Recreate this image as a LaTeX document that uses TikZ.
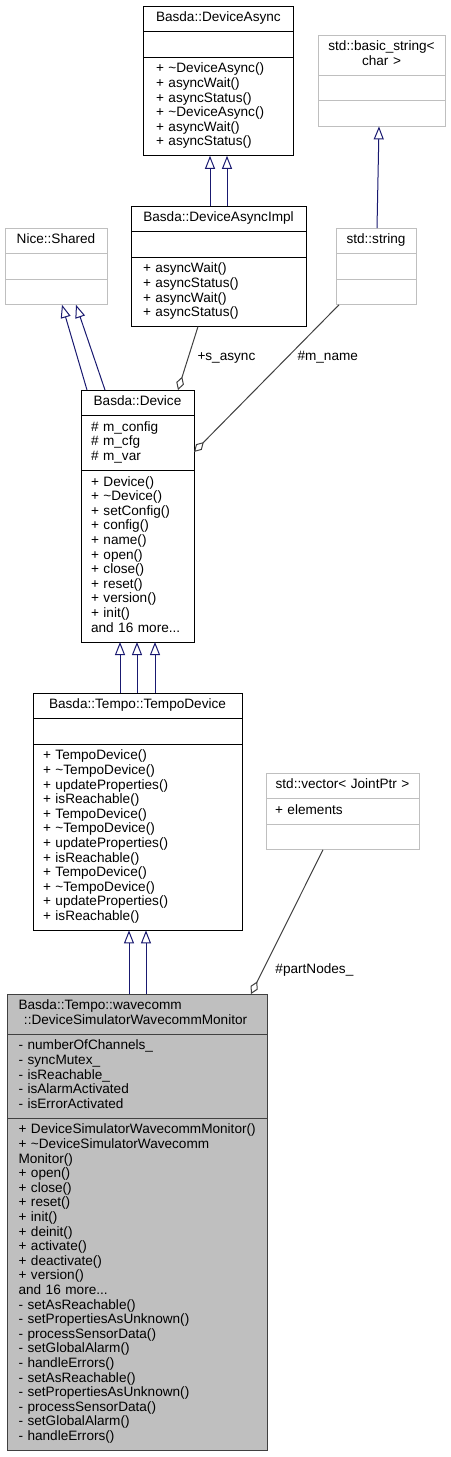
\documentclass[tikz,border=0pt]{standalone}
\usepackage{fontspec}
\setmainfont{Liberation Sans}
\usetikzlibrary{arrows.meta,positioning,calc}
\definecolor{dxBlue}{HTML}{191970}
\definecolor{dxGrey}{HTML}{BFBFBF}
\definecolor{dxEdge}{HTML}{404040}
\newcommand{\dxfont}{\fontsize{13.6}{14.6}\selectfont}
\hyphenpenalty=10000
\exhyphenpenalty=10000

\begin{document}
\begin{tikzpicture}[x=1pt, y=-1pt,
  font=\dxfont,
  part/.style={draw=black, line width=1pt, outer sep=0pt, inner ysep=5.5pt, inner xsep=10pt,
               execute at begin node=\strut, execute at end node=\strut},
  hdr/.style={part, align=center},
  body/.style={part, align=left},
  grey/.style={draw=dxGrey},
  sim/.style={draw=dxEdge, fill=dxGrey},
  inh/.style={draw=dxBlue, line width=1pt, -{Triangle[open, length=13pt, width=10pt]}},
  agg/.style={draw=dxEdge, line width=1pt, -{Diamond[open, length=14pt, width=8pt]}},
  lbl/.style={inner sep=0pt},
]
\useasboundingbox (0,0) rectangle (450,1457);

% Basda::DeviceAsync
\node[hdr, anchor=north west, text width=124pt, inner xsep=13pt] (asyncH) at (143,6) {Basda::DeviceAsync};
\node[body, below=0pt of asyncH, text width=124pt, inner xsep=13pt] (asyncA) {};
\node[body, below=0pt of asyncA, text width=124pt, inner xsep=13pt] (asyncM)
  {+ \textasciitilde DeviceAsync()\\+ asyncWait()\\+ asyncStatus()\\+ \textasciitilde DeviceAsync()\\+ asyncWait()\\+ asyncStatus()};

% Basda::DeviceAsyncImpl
\node[hdr, anchor=north west, text width=151pt, inner xsep=12pt] (implH) at (131,206) {Basda::DeviceAsyncImpl};
\node[body, below=0pt of implH, text width=151pt, inner xsep=12pt] (implA) {};
\node[body, below=0pt of implA, text width=151pt, inner xsep=12pt] (implM)
  {+ asyncWait()\\+ asyncStatus()\\+ asyncWait()\\+ asyncStatus()};

% Nice::Shared
\node[hdr, grey, anchor=north west, text width=82pt] (sharedH) at (5,228) {Nice::Shared};
\node[body, grey, below=0pt of sharedH, text width=82pt] (sharedA) {};
\node[body, grey, below=0pt of sharedA, text width=82pt] (sharedM) {};

% std::basic_string / std::string
\node[hdr, grey, anchor=north west, text width=111pt, inner xsep=8pt] (basicH) at (318,35) {std::basic\_string<\\char >};
\node[body, grey, below=0pt of basicH, text width=111pt, inner xsep=8pt] (basicA) {};
\node[body, grey, below=0pt of basicA, text width=111pt, inner xsep=8pt] (basicM) {};

\node[hdr, grey, anchor=north west, text width=64pt, inner xsep=8pt] (strH) at (336,228) {std::string};
\node[body, grey, below=0pt of strH, text width=64pt, inner xsep=8pt] (strA) {};
\node[body, grey, below=0pt of strA, text width=64pt, inner xsep=8pt] (strM) {};

% Basda::Device
\node[hdr, anchor=north west, text width=93pt] (devH) at (81,390) {Basda::Device};
\node[body, below=0pt of devH, text width=93pt] (devA) {\# m\_config\\\# m\_cfg\\\# m\_var};
\node[body, below=0pt of devA, text width=93pt] (devM)
  {+ Device()\\+ \textasciitilde Device()\\+ setConfig()\\+ config()\\+ name()\\+ open()\\+ close()\\+ reset()\\+ version()\\+ init()\\and 16 more...};

% Basda::Tempo::TempoDevice
\node[hdr, anchor=north west, text width=189pt] (tempoH) at (33,693) {Basda::Tempo::TempoDevice};
\node[body, below=0pt of tempoH, text width=189pt] (tempoA) {};
\node[body, below=0pt of tempoA, text width=189pt] (tempoM)
  {+ TempoDevice()\\+ \textasciitilde TempoDevice()\\+ updateProperties()\\+ isReachable()\\
   + TempoDevice()\\+ \textasciitilde TempoDevice()\\+ updateProperties()\\+ isReachable()\\
   + TempoDevice()\\+ \textasciitilde TempoDevice()\\+ updateProperties()\\+ isReachable()};

% std::vector< JointPtr >
\node[hdr, grey, anchor=north west, text width=135pt, inner xsep=9pt] (vecH) at (266,773) {std::vector< JointPtr >};
\node[body, grey, below=0pt of vecH, text width=135pt, inner xsep=9pt] (vecA) {+ elements};
\node[body, grey, below=0pt of vecA, text width=135pt, inner xsep=9pt] (vecM) {};

% Basda::Tempo::wavecomm::DeviceSimulatorWavecommMonitor
\node[body, sim, anchor=north west, text width=237pt, inner xsep=11.5pt] (dswmH) at (7,994)
  {Basda::Tempo::wavecomm\\\hspace*{5.5pt}::DeviceSimulatorWavecommMonitor};
\node[body, sim, below=0pt of dswmH, text width=237pt, inner xsep=11.5pt] (dswmA)
  {- numberOfChannels\_\\- syncMutex\_\\- isReachable\_\\- isAlarmActivated\\- isErrorActivated};
\node[body, sim, below=0pt of dswmA, text width=237pt, inner xsep=11.5pt] (dswmM)
  {\mbox{+ DeviceSimulatorWavecommMonitor()}\\+ \textasciitilde DeviceSimulatorWavecomm\\Monitor()\\
   + open()\\+ close()\\+ reset()\\+ init()\\+ deinit()\\+ activate()\\+ deactivate()\\+ version()\\
   and 16 more...\\- setAsReachable()\\- setPropertiesAsUnknown()\\- processSensorData()\\
   - setGlobalAlarm()\\- handleErrors()\\- setAsReachable()\\- setPropertiesAsUnknown()\\
   - processSensorData()\\- setGlobalAlarm()\\- handleErrors()};

% inheritance (blue)
\foreach \dx in {79,96}
  \draw[inh] ($(implH.north west)+(\dx,0)$) -- ($(asyncM.south west)+(\dx-12,0)$);
\draw[inh] ($(devH.north west)+(6,0)$) -- ($(sharedM.south west)+(57,0)$);
\draw[inh] ($(devH.north west)+(24,0)$) -- ($(sharedM.south west)+(71,0)$);
\draw[inh] ($(strH.north west)+(41,0)$) -- ($(basicM.south west)+(61,0)$);
\foreach \dx in {39,56,74}
  \draw[inh] ($(tempoH.north west)+(\dx+48,0)$) -- ($(devM.south west)+(\dx,0)$);
\foreach \dx in {96,113}
  \draw[inh] ($(dswmH.north west)+(\dx+26,0)$) -- ($(tempoM.south west)+(\dx,0)$);

% members (grey, open diamond)
\draw[agg] ($(implM.south west)+(67,0)$) --
  node[lbl, pos=0.5, right=9pt]{+s\_async} ($(devH.north west)+(97,0)$);
\draw[agg] ($(strM.south west)+(3,0)$) --
  node[lbl, pos=0.355, right=9.5pt]{\#m\_name} ($(devH.north east)+(0,62)$);
\draw[agg] ($(vecM.south west)+(57,0)$) --
  node[lbl, pos=0.834, right=12pt]{\#partNodes\_} ($(dswmH.north east)+(-16,0)$);
\end{tikzpicture}
\end{document}
